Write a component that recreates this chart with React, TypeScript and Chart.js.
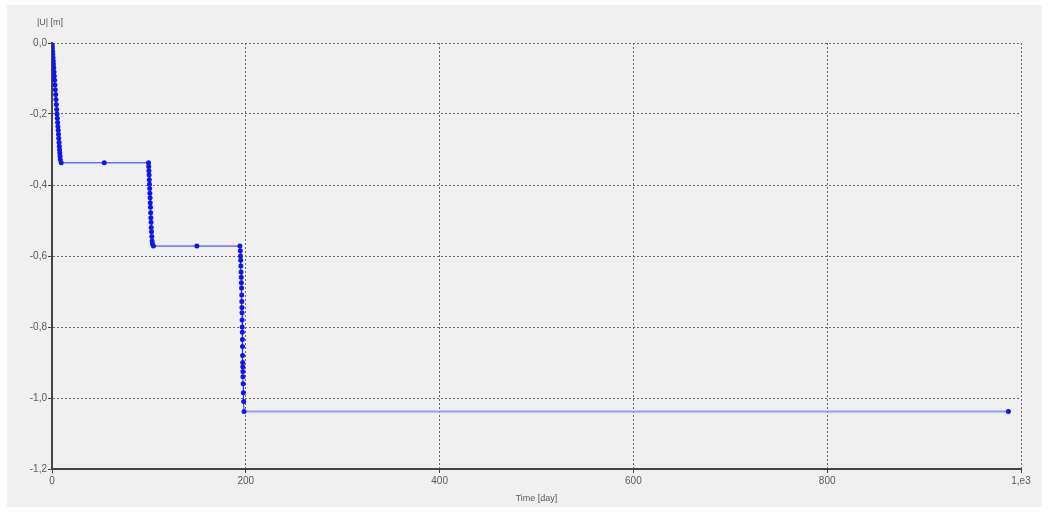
import React, { useEffect, useRef } from "react";
import { Chart, registerables } from "chart.js";

Chart.register(...registerables);

// Time [day]
const timeDays: number[] = [
  0, 0.2, 0.35, 0.6, 0.8, 1.05, 1.3, 1.5, 1.8, 2.1, 2.4, 2.7, 3.05, 3.4, 3.75, 4.1, 4.5, 4.85,
  5.2, 5.5, 5.8, 6.1, 6.4, 6.7, 6.95, 7.3, 7.55, 7.8, 8.05, 8.3, 8.55, 9.5,
  53.9,
  99.6, 99.8, 100.0, 100.2, 100.4, 100.6, 100.8, 101.0, 101.2, 101.4, 101.6, 101.8, 102.0, 102.2,
  102.4, 102.7, 103.0, 103.3, 103.7, 104.7,
  149.5,
  193.9, 194.3, 194.5, 194.7, 194.9, 195.1, 195.3, 195.4, 195.6, 195.8, 195.9, 196.0, 196.1, 196.2,
  196.3, 196.4, 196.5, 196.6, 196.7, 196.8, 196.9, 197.0, 197.1, 197.3, 197.5, 197.8, 198.2,
  987,
];

// |U| [m]
const displacement: number[] = [
  0, -0.007, -0.014, -0.023, -0.032, -0.041, -0.05, -0.059, -0.07, -0.082, -0.093, -0.105, -0.118,
  -0.132, -0.145, -0.159, -0.173, -0.187, -0.2, -0.212, -0.224, -0.235, -0.246, -0.257, -0.268,
  -0.28, -0.291, -0.301, -0.31, -0.319, -0.328, -0.3375,
  -0.3375,
  -0.3375, -0.348, -0.36, -0.372, -0.385, -0.398, -0.41, -0.423, -0.436, -0.45, -0.463, -0.478,
  -0.492, -0.505, -0.52, -0.532, -0.545, -0.558, -0.566, -0.572,
  -0.572,
  -0.572, -0.585, -0.6, -0.612, -0.628, -0.645, -0.66, -0.675, -0.69, -0.71, -0.728, -0.745, -0.76,
  -0.78, -0.8, -0.815, -0.835, -0.855, -0.88, -0.9, -0.912, -0.925, -0.94, -0.96, -0.985, -1.01,
  -1.038,
  -1.038,
];

const xTickValues: number[] = [0, 200, 400, 600, 800, 1000];
const xTickLabels: string[] = ["0", "200", "400", "600", "800", "1,e3"];
const yTickValues: number[] = [0, -0.2, -0.4, -0.6, -0.8, -1.0, -1.2];
const yTickLabels: string[] = ["0,0", "-0,2", "-0,4", "-0,6", "-0,8", "-1,0", "-1,2"];

const yAxisTitle = "|U| [m]";
const xAxisTitle = "Time [day]";

const W = 1049;
const H = 513;

export default function App() {
  const canvasRef = useRef<HTMLCanvasElement | null>(null);

  useEffect(() => {
    document.body.style.margin = "0";
    document.body.style.background = "#ffffff";
    const canvas = canvasRef.current;
    if (!canvas) return;

    const points = timeDays.map((t, i) => ({ x: t, y: displacement[i] }));
    const lastIdx = points.length - 1;

    const bgPlugin = {
      id: "bgPanel",
      beforeDraw(chart: any) {
        const ctx = chart.ctx;
        ctx.save();
        ctx.fillStyle = "#ffffff";
        ctx.fillRect(0, 0, W, H);
        ctx.fillStyle = "#f0f0f0";
        ctx.fillRect(7, 5, 1035, 502);
        ctx.restore();
      },
      afterDraw(chart: any) {
        const ctx = chart.ctx;
        const area = chart.chartArea;
        ctx.save();
        ctx.fillStyle = "#5a5a5a";
        ctx.font = '9px "Liberation Sans", Arial, sans-serif';
        ctx.textBaseline = "middle";
        ctx.textAlign = "center";
        ctx.fillText(yAxisTitle, 50, 23);
        ctx.fillText(xAxisTitle, (area.left + area.right) / 2, 499);
        ctx.restore();
      },
    };

    const chart = new Chart(canvas, {
      type: "scatter",
      data: {
        datasets: [
          {
            data: points,
            showLine: true,
            borderColor: "#2a2aff",
            borderWidth: 1,
            pointRadius: 2.5,
            pointBackgroundColor: "#1414e6",
            pointBorderWidth: 0,
            pointHoverRadius: 2.5,
            segment: {
              borderColor: (ctx: any) => (ctx.p1DataIndex === lastIdx ? "#9a9af2" : undefined),
              borderWidth: (ctx: any) => (ctx.p1DataIndex === lastIdx ? 2 : undefined),
            },
          } as any,
        ],
      },
      options: {
        responsive: false,
        animation: false,
        events: [],
        layout: { padding: { left: 0, top: 43, right: 28, bottom: 0 } },
        plugins: {
          legend: { display: false },
          tooltip: { enabled: false },
          title: { display: false },
        },
        scales: {
          x: {
            type: "linear",
            min: 0,
            max: 1000,
            afterFit: (scale: any) => {
              scale.height = 44;
            },
            afterBuildTicks: (scale: any) => {
              scale.ticks = xTickValues.map((v) => ({ value: v }));
            },
            ticks: {
              autoSkip: false,
              maxRotation: 0,
              padding: 2,
              color: "#5a5a5a",
              font: { family: '"Liberation Sans", Arial, sans-serif', size: 10 },
              callback: (value: any) => {
                const i = xTickValues.indexOf(Number(value));
                return i >= 0 ? xTickLabels[i] : "";
              },
            },
            grid: {
              color: "#6a6a6a",
              lineWidth: 1,
              tickLength: 4,
              tickColor: "#444444",
              tickBorderDash: [],
            },
            border: { display: true, color: "#444444", width: 2, dash: [2, 2] },
          },
          y: {
            type: "linear",
            min: -1.2,
            max: 0,
            afterFit: (scale: any) => {
              scale.width = 52;
            },
            afterBuildTicks: (scale: any) => {
              scale.ticks = yTickValues.map((v) => ({ value: v }));
            },
            ticks: {
              autoSkip: false,
              padding: 1,
              color: "#5a5a5a",
              font: { family: '"Liberation Sans", Arial, sans-serif', size: 10 },
              callback: (value: any) => {
                let idx = -1;
                yTickValues.forEach((v, i) => {
                  if (Math.abs(v - Number(value)) < 1e-6) idx = i;
                });
                return idx >= 0 ? yTickLabels[idx] : "";
              },
            },
            grid: {
              color: "#6a6a6a",
              lineWidth: 1,
              tickLength: 4,
              tickColor: "#444444",
              tickBorderDash: [],
            },
            border: { display: true, color: "#444444", width: 2, dash: [2, 2] },
          },
        },
      } as any,
      plugins: [bgPlugin],
    });

    return () => {
      chart.destroy();
    };
  }, []);

  return (
    <div style={{ position: "fixed", left: 0, top: 0, width: W, height: H, overflow: "hidden" }}>
      <canvas ref={canvasRef} width={W} height={H} style={{ width: W, height: H, display: "block" }} />
    </div>
  );
}
